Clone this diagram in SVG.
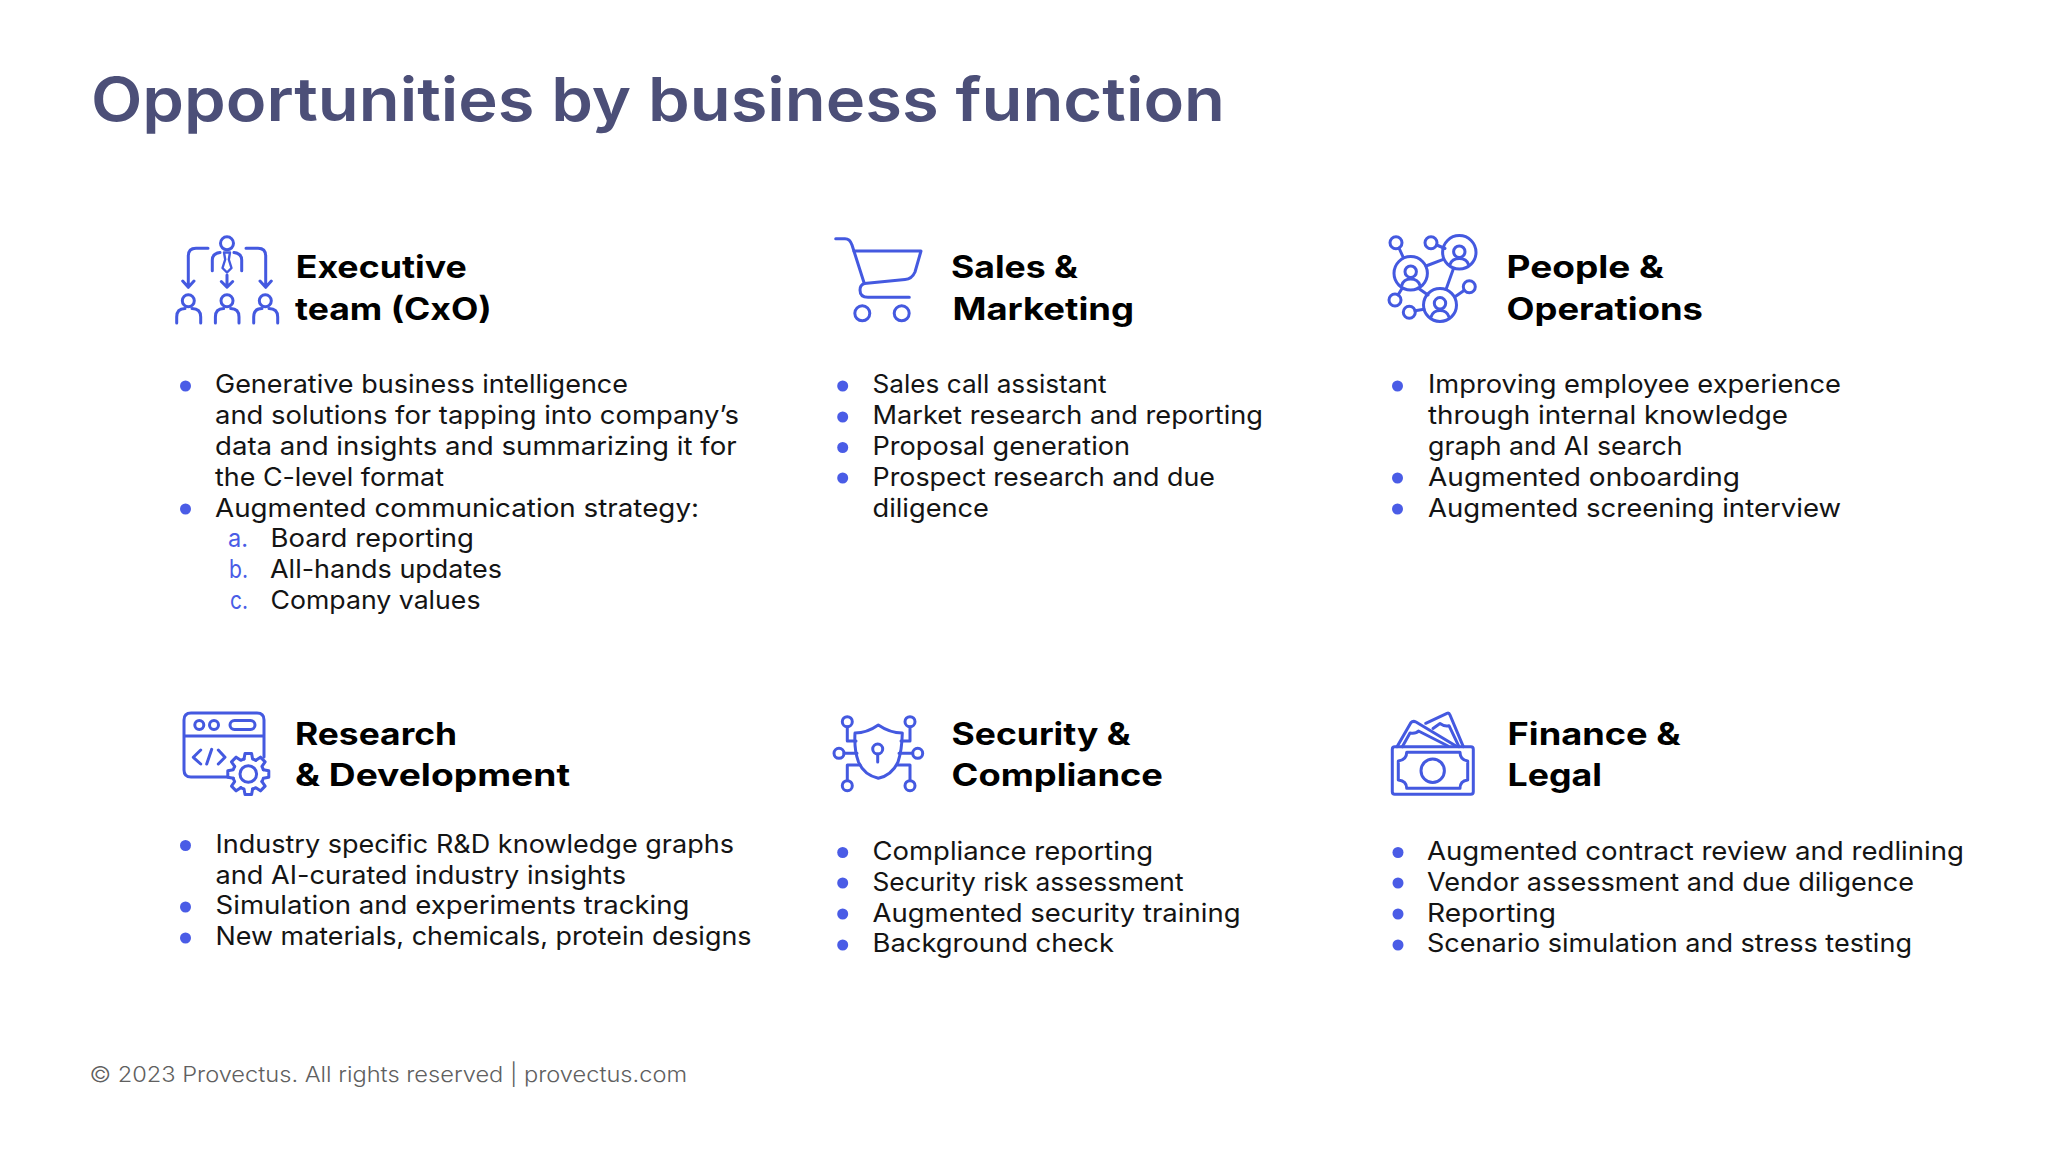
<svg xmlns="http://www.w3.org/2000/svg" width="2048" height="1152" viewBox="0 0 2048 1152">
<style>
text{font-family:"Inter","Noto Sans","Liberation Sans",sans-serif}
.t{font-size:60px;font-weight:600;fill:#4c4f78}
.h{font-size:31px;font-weight:700;fill:#000}
.b{font-size:25.5px;font-weight:400;fill:#141414}
.l{font-size:25px;font-weight:400;fill:#4a5ce6}
.f{font-size:21.5px;font-weight:300;fill:#606060}
.d{fill:#4a5ce6}
.i{fill:none;stroke:#4459e0;stroke-width:3;stroke-linecap:round;stroke-linejoin:round}
</style>
<defs>
<path id="tooth" d="M-4.3-15L-3.3-20.5H3.3L4.3-15A15.6 15.6 0 0 1 7.56-13.64"/>
</defs>
<rect width="2048" height="1152" fill="#fff"/>
<text class="t" x="91" y="120.5" textLength="1134" lengthAdjust="spacingAndGlyphs">Opportunities by business function</text>

<g id="executive">
<g class="i">
<circle cx="227" cy="243.3" r="6.5"/>
<path d="M212.3 270.7V260Q212.3 253.5 220 252.5M241.7 270.7V260Q241.7 253.5 234 252.5"/>
<path d="M224 252.5H230L228.8 259.5 231.5 268 227 272.5 222.5 268 225.2 259.5Z" stroke-width="2.4"/>
<path d="M208 248.3H196Q188.3 248.3 188.3 256V286.5M182.7 281L188.3 287.3 194 281"/>
<path d="M246 248.3H258Q265.7 248.3 265.7 256V286.5M260 281L265.7 287.3 271.3 281"/>
<path d="M227 275V287M221.3 281.5L227 287.3 232.7 281.5"/>
<circle cx="188.3" cy="300.7" r="6"/><circle cx="227" cy="300.7" r="6"/><circle cx="265.3" cy="300.7" r="6"/>
<path d="M176.7 323V317Q176.7 308.5 185 308.5M192 308.5Q200.7 308.5 200.7 317V323M215.4 323V317Q215.4 308.5 223.7 308.5M230.7 308.5Q239 308.5 239 317V323M253.7 323V317Q253.7 308.5 262 308.5M269 308.5Q277.7 308.5 277.7 317V323"/>
</g>
<text class="h" x="295.7" y="278" textLength="171" lengthAdjust="spacingAndGlyphs">Executive</text>
<text class="h" x="295" y="319.5" textLength="196.7" lengthAdjust="spacingAndGlyphs">team (CxO)</text>
<circle class="d" cx="185.5" cy="386" r="5.5"/><circle class="d" cx="185.5" cy="509" r="5.5"/>
<text class="b" x="215" y="393" textLength="413" lengthAdjust="spacingAndGlyphs">Generative business intelligence</text>
<text class="b" x="215" y="424" textLength="524" lengthAdjust="spacingAndGlyphs">and solutions for tapping into company’s</text>
<text class="b" x="215" y="455" textLength="521.6" lengthAdjust="spacingAndGlyphs">data and insights and summarizing it for</text>
<text class="b" x="215" y="485.5" textLength="229" lengthAdjust="spacingAndGlyphs">the C-level format</text>
<text class="b" x="215" y="516.5" textLength="484" lengthAdjust="spacingAndGlyphs">Augmented communication strategy:</text>
<text class="l" x="228" y="547" textLength="20" lengthAdjust="spacingAndGlyphs">a.</text>
<text class="l" x="229" y="578" textLength="19" lengthAdjust="spacingAndGlyphs">b.</text>
<text class="l" x="230" y="608.5" textLength="18" lengthAdjust="spacingAndGlyphs">c.</text>
<text class="b" x="270.5" y="547" textLength="203.5" lengthAdjust="spacingAndGlyphs">Board reporting</text>
<text class="b" x="270" y="578" textLength="232" lengthAdjust="spacingAndGlyphs">All-hands updates</text>
<text class="b" x="270.5" y="608.5" textLength="210" lengthAdjust="spacingAndGlyphs">Company values</text>
</g>

<g id="sales">
<g class="i" stroke-width="3.3">
<path d="M835.7 238.7H845Q850 238.7 852 245L864.3 283.5"/>
<path d="M854 251H921L915 272Q912 279 905 279.5L864.3 283.5Q860 285 860 290Q860 297.3 868 297.3H909.3"/>
<circle cx="862.3" cy="313.3" r="7.5"/><circle cx="901.7" cy="313.3" r="7.5"/>
</g>
<text class="h" x="951" y="278" textLength="127" lengthAdjust="spacingAndGlyphs">Sales &amp;</text>
<text class="h" x="952.5" y="319.5" textLength="181.5" lengthAdjust="spacingAndGlyphs">Marketing</text>
<circle class="d" cx="842.7" cy="386" r="5.5"/><circle class="d" cx="842.7" cy="417" r="5.5"/><circle class="d" cx="842.7" cy="447.5" r="5.5"/><circle class="d" cx="842.7" cy="478" r="5.5"/>
<text class="b" x="872.5" y="393" textLength="234" lengthAdjust="spacingAndGlyphs">Sales call assistant</text>
<text class="b" x="872.5" y="424" textLength="390.5" lengthAdjust="spacingAndGlyphs">Market research and reporting</text>
<text class="b" x="872.5" y="455" textLength="257.5" lengthAdjust="spacingAndGlyphs">Proposal generation</text>
<text class="b" x="872.5" y="485.5" textLength="342.5" lengthAdjust="spacingAndGlyphs">Prospect research and due</text>
<text class="b" x="872.5" y="516.5" textLength="116.5" lengthAdjust="spacingAndGlyphs">diligence</text>
</g>

<g id="people">
<g class="i">
<circle cx="1410.7" cy="273.3" r="16.7"/><circle cx="1410.7" cy="271.7" r="5.7"/>
<path d="M1401.7 285.5Q1403.5 279 1410.7 279Q1418 279 1420 285.5"/>
<circle cx="1459.3" cy="252.3" r="16.7"/><circle cx="1459.3" cy="251.7" r="5.7"/>
<path d="M1450 264.5Q1452 258.5 1459.3 258.5Q1466.5 258.5 1468.5 264.5"/>
<circle cx="1440" cy="305" r="16.5"/><circle cx="1440" cy="303.3" r="5.7"/>
<path d="M1431 317Q1433 310.5 1440 310.5Q1447 310.5 1449 317"/>
<circle cx="1396" cy="242.7" r="6"/><circle cx="1431" cy="242.7" r="6"/><circle cx="1395" cy="300" r="6"/><circle cx="1409.3" cy="312.3" r="6"/><circle cx="1469.3" cy="286.7" r="6"/>
<path d="M1399 248L1403.3 257.5M1436.7 245L1445 248.5M1426 266L1443.3 259.3M1453.3 269L1446 289.5M1418 288L1428 295M1401.7 289L1398 295M1415 310.7L1424 309.3M1455 296.7L1464 290.5"/>
</g>
<text class="h" x="1506.5" y="278" textLength="157.5" lengthAdjust="spacingAndGlyphs">People &amp;</text>
<text class="h" x="1506.5" y="319.5" textLength="196.5" lengthAdjust="spacingAndGlyphs">Operations</text>
<circle class="d" cx="1397.5" cy="386" r="5.5"/><circle class="d" cx="1397.5" cy="478" r="5.5"/><circle class="d" cx="1397.5" cy="509" r="5.5"/>
<text class="b" x="1428" y="393" textLength="413" lengthAdjust="spacingAndGlyphs">Improving employee experience</text>
<text class="b" x="1428" y="424" textLength="360" lengthAdjust="spacingAndGlyphs">through internal knowledge</text>
<text class="b" x="1428" y="455" textLength="254.5" lengthAdjust="spacingAndGlyphs">graph and AI search</text>
<text class="b" x="1428" y="485.5" textLength="312" lengthAdjust="spacingAndGlyphs">Augmented onboarding</text>
<text class="b" x="1428" y="516.5" textLength="413" lengthAdjust="spacingAndGlyphs">Augmented screening interview</text>
</g>

<g id="research">
<g class="i">
<path d="M264 757V720Q264 713 257 713H191Q184 713 184 720V770Q184 777 191 777H228M184 736H264"/>
<circle cx="199.3" cy="725" r="4.5"/><circle cx="214" cy="725" r="4.5"/><rect x="230" y="720.5" width="25" height="9" rx="4.5"/>
<path d="M200.7 750L193.3 757.3 200.7 764M211.7 749.3L206.7 764M218.3 750L225 757.3 218.3 764"/>
<g transform="translate(248.3 774)">
<use href="#tooth"/><use href="#tooth" transform="rotate(45)"/><use href="#tooth" transform="rotate(90)"/><use href="#tooth" transform="rotate(135)"/><use href="#tooth" transform="rotate(180)"/><use href="#tooth" transform="rotate(225)"/><use href="#tooth" transform="rotate(270)"/><use href="#tooth" transform="rotate(315)"/>
<circle r="8.3"/>
</g>
</g>
<text class="h" x="295" y="744.5" textLength="162" lengthAdjust="spacingAndGlyphs">Research</text>
<text class="h" x="295" y="786" textLength="275" lengthAdjust="spacingAndGlyphs">&amp; Development</text>
<circle class="d" cx="185.5" cy="845.5" r="5.5"/><circle class="d" cx="185.5" cy="907" r="5.5"/><circle class="d" cx="185.5" cy="938" r="5.5"/>
<text class="b" x="215.5" y="852.5" textLength="518.5" lengthAdjust="spacingAndGlyphs">Industry specific R&amp;D knowledge graphs</text>
<text class="b" x="215.5" y="883.5" textLength="410.5" lengthAdjust="spacingAndGlyphs">and AI-curated industry insights</text>
<text class="b" x="215.5" y="914" textLength="474" lengthAdjust="spacingAndGlyphs">Simulation and experiments tracking</text>
<text class="b" x="215.5" y="945" textLength="536" lengthAdjust="spacingAndGlyphs">New materials, chemicals, protein designs</text>
</g>

<g id="security">
<g class="i">
<path d="M878.3 725Q867 733 855 733Q854 750 858.5 762Q864 775 878.3 778.3Q892 775 898 762Q902 750 902.3 733Q890 733 878.3 725Z"/>
<circle cx="877.7" cy="749" r="5"/><path d="M877.7 754V762"/>
<circle cx="847.3" cy="721.7" r="5"/><circle cx="910" cy="721.7" r="5"/><circle cx="839" cy="753.3" r="5"/><circle cx="917.7" cy="753.3" r="5"/><circle cx="847.3" cy="785.7" r="5"/><circle cx="910" cy="785.7" r="5"/>
<path d="M847.3 727V741H856M910 727V741H901M844 753.3H857M912.7 753.3H899M847.3 780.5V765H860M910 780.5V765H897"/>
</g>
<text class="h" x="951.6" y="744.5" textLength="179" lengthAdjust="spacingAndGlyphs">Security &amp;</text>
<text class="h" x="951.6" y="786" textLength="211.4" lengthAdjust="spacingAndGlyphs">Compliance</text>
<circle class="d" cx="842.7" cy="852.5" r="5.5"/><circle class="d" cx="842.7" cy="883" r="5.5"/><circle class="d" cx="842.7" cy="914" r="5.5"/><circle class="d" cx="842.7" cy="945" r="5.5"/>
<text class="b" x="872.5" y="860" textLength="280.5" lengthAdjust="spacingAndGlyphs">Compliance reporting</text>
<text class="b" x="872.5" y="890.5" textLength="311" lengthAdjust="spacingAndGlyphs">Security risk assessment</text>
<text class="b" x="872.5" y="921.5" textLength="368" lengthAdjust="spacingAndGlyphs">Augmented security training</text>
<text class="b" x="872.5" y="952" textLength="241.5" lengthAdjust="spacingAndGlyphs">Background check</text>
</g>

<g id="finance">
<g class="i" stroke-width="2.6">
<rect x="1392.3" y="746.7" width="81" height="47.6" rx="2.5"/>
<path d="M1406.7 752.3H1460Q1460 760 1467.7 761V780Q1460 781 1460 788.3H1406.7Q1406.7 781 1398.3 780V761Q1406.7 760 1406.7 752.3Z"/>
<circle cx="1432.7" cy="770.7" r="11.7"/>
<path d="M1397 746.7L1411 722.5Q1413 720.5 1416 722L1456 746M1402.3 746.7L1410 733Q1416 734 1418.5 731L1448 746"/>
<path d="M1425.7 723.3L1447 713.3Q1449 712.5 1450 715L1463.3 746.7M1433 728.5L1440 723.5Q1445 727 1449 725.7L1459 746.7"/>
</g>
<text class="h" x="1507.6" y="744.5" textLength="173" lengthAdjust="spacingAndGlyphs">Finance &amp;</text>
<text class="h" x="1507.6" y="786" textLength="94.4" lengthAdjust="spacingAndGlyphs">Legal</text>
<circle class="d" cx="1398" cy="852.5" r="5.5"/><circle class="d" cx="1398" cy="883" r="5.5"/><circle class="d" cx="1398" cy="914" r="5.5"/><circle class="d" cx="1398" cy="945" r="5.5"/>
<text class="b" x="1427" y="860" textLength="537" lengthAdjust="spacingAndGlyphs">Augmented contract review and redlining</text>
<text class="b" x="1427" y="890.5" textLength="487" lengthAdjust="spacingAndGlyphs">Vendor assessment and due diligence</text>
<text class="b" x="1427" y="921.5" textLength="129" lengthAdjust="spacingAndGlyphs">Reporting</text>
<text class="b" x="1427" y="952" textLength="485" lengthAdjust="spacingAndGlyphs">Scenario simulation and stress testing</text>
</g>

<text class="f" x="89.5" y="1082" textLength="597.5" lengthAdjust="spacingAndGlyphs">© 2023 Provectus. All rights reserved | provectus.com</text>
</svg>
